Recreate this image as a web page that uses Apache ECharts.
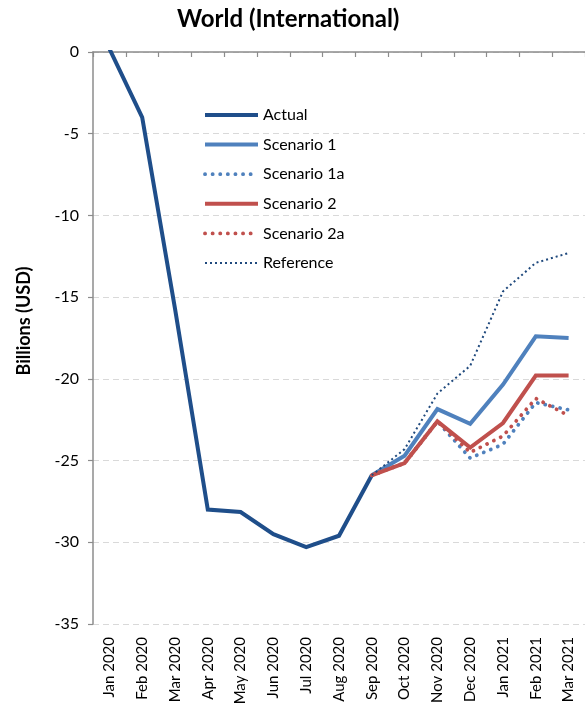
<!DOCTYPE html>
<html>
<head>
<meta charset="utf-8">
<style>
  html, body { margin: 0; padding: 0; background: #fff; }
  #chart { width: 585px; height: 720px; }
</style>
<script src="https://cdn.jsdelivr.net/npm/echarts@6/dist/echarts.min.js"></script>
</head>
<body>
<div id="chart"></div>
<script>
// Monthly months on the category axis
const months = ['Jan 2020', 'Feb 2020', 'Mar 2020', 'Apr 2020', 'May 2020', 'Jun 2020',
  'Jul 2020', 'Aug 2020', 'Sep 2020', 'Oct 2020', 'Nov 2020', 'Dec 2020',
  'Jan 2021', 'Feb 2021', 'Mar 2021'];

// Billions of USD; null where a series has no value
const actual     = [0.2, -4.0, -15.7, -28.0, -28.15, -29.5, -30.3, -29.6, -25.9, null, null, null, null, null, null];
const scenario1  = [null, null, null, null, null, null, null, null, -25.9, -24.7, -21.85, -22.75, -20.35, -17.4, -17.5];
const scenario1a = [null, null, null, null, null, null, null, null, -25.9, -25.15, -22.6, -24.85, -24.0, -21.45, -21.9];
const scenario2  = [null, null, null, null, null, null, null, null, -25.9, -25.15, -22.6, -24.2, -22.7, -19.8, -19.8];
const scenario2a = [null, null, null, null, null, null, null, null, -25.9, -25.15, -22.6, -24.5, -23.5, -21.2, -22.25];
const reference  = [null, null, null, null, null, null, null, null, -25.9, -24.3, -20.9, -19.2, -14.65, -12.9, -12.3];

const yTicks = { min: -35, max: 0, step: 5 };

const FONT = 'Lato';
const NAVY = '#1F4E8A';
const BLUE = '#4F81BD';
const RED = '#C0504D';
const REF = '#1F497D';

const SOLID_W = 4;
const DOT_W = 3.8;
const DOT_DASH = [0.1, 7.5];
const REF_W = 2;
const REF_DASH = [2, 3];

const chart = echarts.init(document.getElementById('chart'), null, { renderer: 'canvas' });

const solid = (name, data, color) => ({
  name, type: 'line', data, symbol: 'none', connectNulls: false,
  lineStyle: { color, width: SOLID_W, cap: 'butt', join: 'miter' },
  itemStyle: { color },
  emphasis: { disabled: true }
});
const dotted = (name, data, color, width, dash, cap) => ({
  name, type: 'line', data, symbol: 'none',
  lineStyle: { color, width, type: dash, cap },
  itemStyle: { color },
  emphasis: { disabled: true }
});

chart.setOption({
  animation: false,
  backgroundColor: '#ffffff',
  title: {
    text: 'World (International)',
    left: 172,
    top: 2,
    textStyle: { fontFamily: FONT, fontWeight: 'bold', fontSize: 24, color: '#000' }
  },
  legend: {
    orient: 'vertical',
    left: 198,
    top: 102,
    itemWidth: 53,
    itemHeight: 14,
    itemGap: 13.6,
    itemStyle: { opacity: 0, borderWidth: 0 },
    textStyle: { fontFamily: FONT, fontSize: 16, color: '#000' },
    data: [
      { name: 'Actual', lineStyle: { width: SOLID_W } },
      { name: 'Scenario 1', lineStyle: { width: SOLID_W } },
      { name: 'Scenario 1a', lineStyle: { width: DOT_W, type: DOT_DASH, cap: 'round' } },
      { name: 'Scenario 2', lineStyle: { width: SOLID_W } },
      { name: 'Scenario 2a', lineStyle: { width: DOT_W, type: DOT_DASH, cap: 'round' } },
      { name: 'Reference', lineStyle: { width: REF_W, type: REF_DASH } }
    ]
  },
  grid: { left: 93, right: -6, top: 52, bottom: 96, containLabel: false },
  xAxis: [
    {
      type: 'category',
      data: months,
      position: 'bottom',
      boundaryGap: true,
      axisLine: { show: false, onZero: false },
      axisTick: { show: false },
      axisLabel: {
        rotate: 90, margin: 13, interval: 0,
        fontFamily: FONT, fontSize: 15, color: '#000'
      },
      splitLine: { show: false }
    },
    {
      type: 'category',
      data: months,
      position: 'top',
      boundaryGap: true,
      axisLine: { show: true, onZero: false, lineStyle: { color: '#8c8c8c', width: 1.5 } },
      axisTick: { show: true, inside: true, length: 5, interval: 0, lineStyle: { color: '#8c8c8c', width: 1.2 } },
      axisLabel: { show: false },
      splitLine: { show: false }
    }
  ],
  yAxis: {
    type: 'value',
    min: yTicks.min,
    max: yTicks.max,
    interval: yTicks.step,
    name: 'Billions (USD)',
    nameLocation: 'middle',
    nameGap: 60,
    nameTextStyle: { fontFamily: FONT, fontWeight: 'bold', fontSize: 18, color: '#000', padding: [0, 0, 0, 34] },
    axisLine: { show: true, lineStyle: { color: '#8c8c8c', width: 1.5 } },
    axisTick: { show: true, inside: false, length: 5, lineStyle: { color: '#8c8c8c', width: 1.2 } },
    axisLabel: { margin: 14, fontFamily: FONT, fontSize: 16, color: '#000' },
    splitLine: { show: true, lineStyle: { color: '#d9d9d9', width: 1.2, type: [6, 4] } }
  },
  series: [
    solid('Actual', actual, NAVY),
    solid('Scenario 1', scenario1, BLUE),
    dotted('Scenario 1a', scenario1a, BLUE, DOT_W, DOT_DASH, 'round'),
    solid('Scenario 2', scenario2, RED),
    dotted('Scenario 2a', scenario2a, RED, DOT_W, DOT_DASH, 'round'),
    dotted('Reference', reference, REF, REF_W, REF_DASH, 'butt')
  ]
});
</script>
</body>
</html>
